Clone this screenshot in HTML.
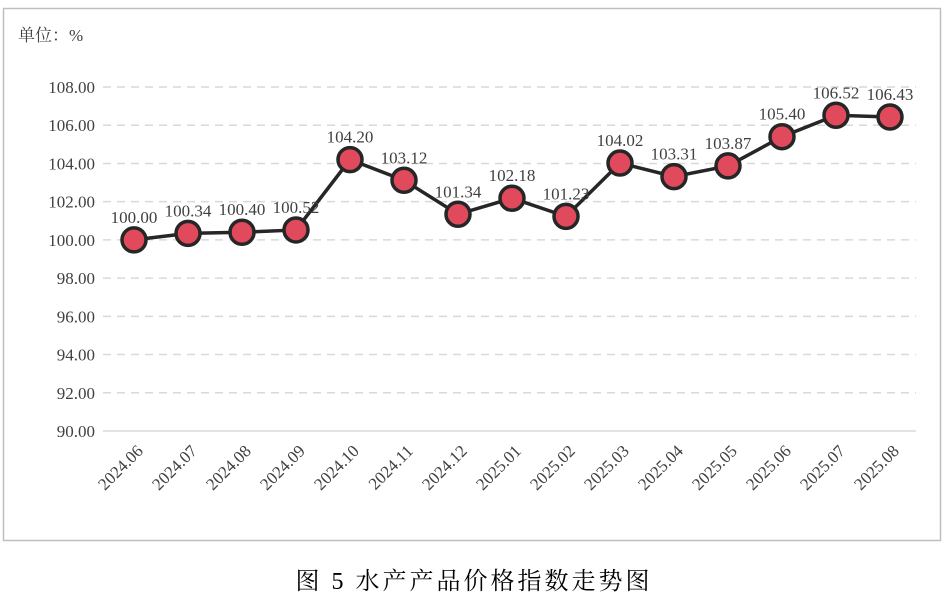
<!DOCTYPE html>
<html><head><meta charset="utf-8"><style>
html,body{margin:0;padding:0;background:#fff;}
body{width:946px;height:595px;position:relative;overflow:hidden;}
svg text{font-family:"Liberation Serif","Noto Serif CJK SC",serif;}
</style></head><body>
<svg id="chart" width="946" height="595" xmlns="http://www.w3.org/2000/svg">
<rect x="3.5" y="8.5" width="937" height="532" fill="#fff" stroke="#bfbfbf" stroke-width="1.5"/>
<text x="18" y="41" font-size="17" fill="#404040">单位：%</text>
<g id="grid"></g><g id="yticks"></g><g id="xticks"></g><g id="series"></g>
<text x="474" y="589" font-size="24" text-anchor="middle" fill="#000" letter-spacing="3">图 5  水产产品价格指数走势图</text>
</svg>
<script>
const categories=["2024.06","2024.07","2024.08","2024.09","2024.10","2024.11","2024.12","2025.01","2025.02","2025.03","2025.04","2025.05","2025.06","2025.07","2025.08"];
const values=[100.00,100.34,100.40,100.52,104.20,103.12,101.34,102.18,101.23,104.02,103.31,103.87,105.40,106.52,106.43];
const yTicks=[90,92,94,96,98,100,102,104,106,108];
const NS="http://www.w3.org/2000/svg";
function y(v){return 431-(v-90)*(344/18);}
function x(i){return 134+i*54;}
function mk(t,a,p){const e=document.createElementNS(NS,t);for(const k in a)e.setAttribute(k,a[k]);p.appendChild(e);return e;}
const grid=document.getElementById('grid'),yt=document.getElementById('yticks'),xt=document.getElementById('xticks'),sr=document.getElementById('series');
yTicks.forEach(v=>{
  const l=mk('line',{x1:103,x2:916,y1:y(v),y2:y(v),stroke:'#d9d9d9','stroke-width':1.5},grid);
  if(v!==90)l.setAttribute('stroke-dasharray','8,6');
  
  
  const t=mk('text',{x:95,y:y(v)+6,'font-size':17,'text-anchor':'end',fill:'#404040'},yt);
  t.textContent=v.toFixed(2);
  
  
});
categories.forEach((c,i)=>{
  const t=mk('text',{x:x(i)+10,y:452,'font-size':17,'text-anchor':'end',fill:'#404040',transform:`rotate(-45 ${x(i)+10} 452)`},xt);
  t.textContent=c;
  
  
});
const pl=mk('polyline',{points:values.map((v,i)=>x(i)+','+y(v)).join(' '),fill:'none',stroke:'#262626','stroke-width':3.5},sr);


values.forEach((v,i)=>{
  const c=mk('circle',{cx:x(i),cy:y(v),r:12,fill:'#e04a5c',stroke:'#262626','stroke-width':3.5},sr);
  
  
  const t=mk('text',{x:x(i),y:y(v)-17,'font-size':17,'text-anchor':'middle',fill:'#404040'},sr);
  t.textContent=v.toFixed(2);
  
  
});
</script>
</body></html>
